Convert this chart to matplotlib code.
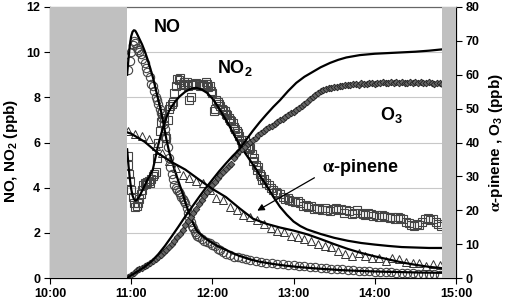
import matplotlib
matplotlib.use("Agg")
import matplotlib.pyplot as plt

plt.rcParams["font.family"] = ["Liberation Sans", "DejaVu Sans"]
plt.rcParams["font.weight"] = "bold"
plt.rcParams["mathtext.fontset"] = "stix"
plt.rcParams["mathtext.default"] = "regular"

# time axis in minutes after 10:00
TICK_MIN = [0, 60, 120, 180, 240, 300]
TICK_LABELS = ["10:00", "11:00", "12:00", "13:00", "14:00", "15:00"]
DARK_BANDS = [(0, 57), (290, 300)]

# NO measured (circles, left axis)
no_t = [58, 59, 60, 61, 62, 63, 64, 65, 66, 67, 68, 70, 71, 72, 74, 75, 76, 77, 78, 79,
        80, 81, 82, 83, 84, 85, 86, 87, 88, 89, 90, 91, 92, 93, 94, 95, 96, 97, 98, 99,
        100, 101, 102, 103, 104, 105, 106, 107, 108, 109, 110, 112, 114, 116, 118, 120,
        122, 124, 126, 128, 130, 133, 136, 139, 142, 145, 148, 152, 156, 160, 164, 168,
        172, 176, 180, 184, 188, 192, 196, 200, 204, 208, 212, 216, 220, 224, 228, 232,
        236, 240, 244, 248, 252, 256, 260, 264, 268, 272, 276, 280, 284, 288]
no_v = [9.2, 9.6, 10.0, 10.3, 10.5, 10.4, 10.2, 10.1, 10.0, 9.9, 9.7, 9.5, 9.3, 9.1, 8.9,
        8.6, 8.5, 8.3, 8.0, 7.9, 7.7, 7.5, 7.3, 7.1, 6.8, 6.6, 6.2, 5.8, 5.3, 4.9, 4.6, 4.4,
        4.1, 4.0, 3.9, 3.8, 3.7, 3.6, 3.5, 3.4, 3.3, 3.1, 2.9, 2.7, 2.5, 2.3, 2.2, 2.05,
        1.95, 1.85, 1.8, 1.72, 1.65, 1.6, 1.55, 1.48, 1.4, 1.3, 1.22, 1.15, 1.08, 1.0, 0.95,
        0.92, 0.88, 0.84, 0.8, 0.76, 0.72, 0.68, 0.66, 0.62, 0.6, 0.58, 0.56, 0.55, 0.52,
        0.5, 0.47, 0.45, 0.43, 0.42, 0.4, 0.38, 0.37, 0.35, 0.33, 0.32, 0.3, 0.28, 0.27,
        0.26, 0.25, 0.23, 0.22, 0.21, 0.2, 0.19, 0.18, 0.17, 0.16, 0.15]

# NO model
no_fit_t = [57, 58, 59, 60, 61, 62, 63, 64, 66, 68, 70, 72, 74, 76, 78, 80, 82, 84, 86, 88,
            90, 92, 94, 96, 98, 100, 102, 104, 106, 108, 110, 112, 115, 120, 125, 130, 135,
            140, 148, 155, 165, 175, 185, 195, 205, 215, 230, 245, 260, 275, 290]
no_fit_v = [9.0, 9.7, 10.3, 10.7, 10.9, 10.97, 10.95, 10.85, 10.6, 10.35, 10.05, 9.7, 9.3,
            8.9, 8.4, 7.9, 7.4, 6.8, 6.15, 5.6, 5.2, 4.8, 4.45, 4.1, 3.75, 3.35, 3.0, 2.7,
            2.4, 2.15, 2.0, 1.9, 1.75, 1.55, 1.38, 1.25, 1.1, 0.98, 0.82, 0.72, 0.62, 0.54,
            0.48, 0.43, 0.39, 0.35, 0.31, 0.28, 0.26, 0.24, 0.23]

# NO2 measured (squares, left axis)
no2_t = [57.5, 58, 58.5, 59, 60, 61, 62, 63, 64, 65, 66, 67, 68, 69, 70, 71, 72, 73, 74, 75,
         76, 77, 78, 79, 80, 81, 82, 83, 84, 85, 86, 87, 88, 89, 90, 91, 92, 93, 94, 95, 96,
         97, 98, 99, 100, 101, 102, 103, 104, 105, 106, 107, 108, 110, 111, 112, 113, 114,
         115, 116, 117, 118, 119, 120, 121, 122, 123, 124, 125, 126, 127, 128, 129, 130,
         131, 132, 133, 134, 135, 136, 137, 138, 139, 140, 141, 142, 143, 144, 145, 146,
         147, 148, 149, 150, 151, 152, 153, 154, 155, 156, 157, 158, 160, 162, 163, 165,
         167, 168, 170, 172, 174, 176, 177, 179, 181, 183, 185, 187, 189, 191, 193, 195,
         197, 199, 201, 203, 205, 207, 209, 211, 213, 215, 217, 219, 221, 223, 225, 227,
         229, 231, 233, 235, 237, 239, 241, 243, 245, 247, 249, 251, 253, 255, 257, 259,
         261, 263, 265, 267, 269, 271, 273, 275, 277, 279, 281, 283, 285, 287, 289]
no2_v = [5.4, 5.0, 4.6, 4.3, 3.9, 3.6, 3.3, 3.15, 3.2, 3.3, 3.5, 3.7, 3.9, 4.1, 4.2, 4.15,
         4.25, 4.3, 4.2, 4.4, 4.5, 4.6, 4.7, 5.3, 6.0, 6.5, 6.9, 7.3, 7.1, 6.3, 6.2, 7.0, 7.5,
         7.6, 7.7, 7.8, 8.2, 8.5, 8.8, 8.75, 8.85, 8.6, 8.55, 8.7, 8.6, 8.7, 8.5, 7.9, 8.0,
         8.6, 8.55, 8.6, 8.65, 8.6, 8.5, 8.55, 8.6, 8.5, 8.7, 8.6, 8.45, 8.5, 8.3, 8.2, 7.4,
         7.5, 7.9, 7.8, 7.7, 7.6, 7.5, 7.45, 7.4, 7.25, 7.2, 7.1, 7.0, 6.95, 6.85, 6.7, 6.6,
         6.5, 6.4, 6.3, 6.1, 6.0, 5.9, 6.1, 5.9, 5.8, 5.7, 5.75, 5.5, 5.2, 5.3, 5.0, 4.8, 4.9,
         4.6, 4.5, 4.35, 4.4, 4.2, 4.1, 4.0, 3.9, 3.8, 3.75, 3.7, 3.6, 3.5, 3.55, 3.45, 3.4,
         3.35, 3.4, 3.3, 3.2, 3.25, 3.15, 3.2, 3.05, 3.1, 3.05, 3.0, 3.1, 3.0, 2.95, 3.05,
         3.1, 3.0, 3.05, 2.9, 3.0, 2.95, 2.85, 2.9, 3.0, 2.9, 2.85, 2.8, 2.9, 2.85, 2.75, 2.8,
         2.7, 2.8, 2.75, 2.7, 2.65, 2.7, 2.6, 2.7, 2.65, 2.6, 2.5, 2.45, 2.35, 2.3, 2.4, 2.35,
         2.5, 2.6, 2.65, 2.55, 2.6, 2.5, 2.4, 2.3]

# NO2 model
no2_fit_t = [57, 58, 59, 60, 61, 62, 63, 64, 66, 68, 70, 72, 74, 76, 78, 80, 82, 84, 86, 88,
             90, 93, 96, 100, 104, 108, 112, 116, 120, 124, 128, 132, 136, 140, 144, 148,
             152, 156, 160, 165, 170, 175, 180, 185, 190, 200, 210, 220, 230, 240, 250, 260,
             270, 280, 290]
no2_fit_v = [5.7, 5.0, 4.4, 3.95, 3.65, 3.5, 3.43, 3.45, 3.6, 3.85, 4.1, 4.35, 4.55, 4.8,
             5.35, 5.9, 6.35, 6.75, 7.1, 7.4, 7.6, 7.85, 8.05, 8.25, 8.38, 8.42, 8.35, 8.2,
             7.95, 7.6, 7.2, 6.8, 6.35, 5.9, 5.55, 5.2, 4.85, 4.45, 4.1, 3.6, 3.15, 2.8, 2.5,
             2.3, 2.15, 1.95, 1.78, 1.65, 1.55, 1.48, 1.42, 1.37, 1.35, 1.33, 1.33]

# alpha-pinene measured (triangles, right axis)
ap_t = [58, 63, 68, 73, 78, 83, 88, 93, 98, 103, 108, 113, 118, 123, 128, 133, 138, 143,
        148, 153, 158, 163, 168, 173, 178, 183, 188, 193, 198, 203, 208, 213, 218, 223, 228,
        233, 238, 243, 248, 253, 258, 263, 268, 273, 278, 283, 288]
ap_v = [43.5, 42.5, 42, 41, 39, 37, 34.5, 32.5, 30.5, 29.5, 28.5, 28, 26, 23.5, 23, 21, 20,
        18.5, 18, 17, 16, 14.8, 14, 13.5, 12.5, 12, 11.5, 11, 10, 9.5, 9.2, 8, 7, 6.5, 7.5,
        6.5, 6, 5.8, 5, 6, 5.5, 4.8, 4.5, 4.5, 3.5, 4.0, 3.8]

# alpha-pinene model
ap_fit_t = [57, 60, 70, 80, 90, 100, 110, 120, 130, 140, 150, 160, 170, 180, 190, 200, 210,
            220, 230, 240, 250, 260, 270, 280, 290]
ap_fit_v = [43, 42.6, 40.2, 36.8, 34.2, 32.0, 29.1, 26.3, 23.9, 20.6, 17.5, 16.0, 14.9, 14.0,
            12.9, 11.5, 10.0, 8.6, 7.4, 6.4, 5.5, 4.6, 3.9, 3.3, 2.9]

# O3 measured (diamonds, right axis)
o3_t = [58, 60, 62, 64, 66, 68, 70, 72, 74, 76, 78, 80, 82, 84, 86, 88, 90, 92, 94, 96, 98,
        100, 102, 104, 106, 108, 110, 112, 114, 116, 118, 120, 122, 124, 126, 128, 130, 132,
        134, 136, 138, 140, 142, 144, 146, 148, 150, 152, 154, 156, 158, 160, 162, 164, 166,
        168, 170, 172, 174, 176, 178, 180, 182, 184, 186, 188, 190, 192, 194, 196, 198, 200,
        202, 204, 206, 208, 210, 212, 214, 216, 218, 220, 222, 224, 226, 228, 230, 232, 234,
        236, 238, 240, 242, 244, 246, 248, 250, 252, 254, 256, 258, 260, 262, 264, 266, 268,
        270, 272, 274, 276, 278, 280, 282, 284, 286, 288, 290]
o3_v = [0.2, 0.8, 1.6, 2.3, 2.8, 3.1, 3.4, 3.8, 4.3, 4.9, 5.5, 6.2, 6.9, 7.6, 8.3, 9.1, 10.0,
        11.0, 12.0, 13.1, 14.3, 15.5, 16.8, 18.0, 19.3, 20.5, 21.7, 22.9, 24.1, 25.3, 26.4,
        27.4, 28.4, 29.4, 30.3, 31.2, 32.1, 33.0, 33.8, 35.5, 36.6, 37.5, 38.0, 38.8, 39.5,
        40.2, 40.8, 41.4, 42.1, 42.8, 43.5, 44.0, 44.5, 45.0, 45.5, 46.0, 46.6, 47.0, 47.4,
        48.0, 48.6, 49.1, 49.6, 50.2, 50.9, 51.5, 52.1, 52.8, 53.4, 54.0, 54.6, 55.1, 55.5,
        55.8, 56.0, 56.2, 56.3, 56.5, 56.6, 56.8, 56.9, 57.0, 56.9, 57.2, 57.3, 57.1, 57.5,
        57.4, 57.3, 57.6, 57.5, 57.4, 57.7, 57.5, 57.8, 57.6, 57.7, 57.9, 57.6, 57.8, 57.5,
        57.9, 57.7, 57.6, 58.0, 57.7, 57.8, 57.6, 57.9, 57.7, 57.5, 57.8, 57.6, 57.4, 57.7,
        57.5, 57.4]

# O3 model
o3_fit_t = [57, 60, 65, 70, 75, 80, 85, 90, 95, 100, 105, 110, 115, 120, 125, 130, 135, 140,
            145, 150, 155, 160, 165, 170, 176, 182, 188, 194, 200, 207, 213, 219, 229, 240,
            250, 260, 270, 280, 290]
o3_fit_v = [0.0, 0.8, 2.0, 3.3, 4.9, 7.0, 9.5, 12.3, 15.2, 18.2, 21.0, 23.8, 26.5, 29.0,
            31.5, 33.8, 36.0, 38.0, 40.8, 43.5, 46.0, 48.3, 50.5, 52.5, 55.2, 57.6, 59.4,
            60.8, 62.2, 63.5, 64.4, 65.1, 65.8, 66.2, 66.4, 66.6, 66.8, 67.1, 67.5]


fig = plt.figure(figsize=(5.1, 3.04), dpi=100)
ax = fig.add_axes([0.098, 0.0855, 0.796, 0.8915])
ax2 = ax.twinx()

# left axis: NO, NO2
ax.plot(no2_t, no2_v, ls="none", marker="s", ms=5.5, mfc="none", mec="#444", mew=0.8)
ax.plot(no_t, no_v, ls="none", marker="o", ms=6, mfc="none", mec="#444", mew=0.8)
ax.plot(no_fit_t, no_fit_v, color="k", lw=1.6)
ax.plot(no2_fit_t, no2_fit_v, color="k", lw=1.6)

# right axis: alpha-pinene, O3
ax2.plot(ap_t, ap_v, ls="none", marker="^", ms=6, mfc="none", mec="#333", mew=0.7)
ax2.plot(o3_t, o3_v, ls="none", marker="D", ms=3.4, mfc="#666", mec="#222", mew=0.6)
ax2.plot(ap_fit_t, ap_fit_v, color="k", lw=1.6)
ax2.plot(o3_fit_t, o3_fit_v, color="k", lw=1.6)

for x0, x1 in DARK_BANDS:
    ax2.axvspan(x0, x1, color="#c0c0c0", lw=0, zorder=10)

ax.set_xlim(0, 300)
ax.set_ylim(0, 12)
ax2.set_ylim(0, 80)
ax.set_xticks(TICK_MIN)
ax.set_xticklabels(TICK_LABELS)
ax.set_yticks(range(0, 13, 2))
ax2.set_yticks(range(0, 81, 10))
ax.yaxis.grid(True, color="#c8c8c8", lw=0.8)
ax.set_axisbelow(True)

for a in (ax, ax2):
    a.tick_params(direction="out", length=4, width=0.8, labelsize=9, pad=3)
    for s in a.spines.values():
        s.set_linewidth(0.8)
    a.spines["top"].set_color("#666")

ax.set_ylabel("NO, NO$_2$ (ppb)", fontsize=11, fontweight="bold")
ax2.set_ylabel(r"$\mathrm{\alpha}$-pinene , O$_3$ (ppb)", fontsize=11, fontweight="bold")
ax.yaxis.set_label_coords(-0.073, 0.47)
ax2.yaxis.set_label_coords(1.077, 0.5)

ax.text(86.4, 11.1, "NO", fontsize=13, fontweight="bold", ha="center", va="center")
ax.text(136.6, 9.3, "NO$_2$", fontsize=13, fontweight="bold", ha="center", va="center")
ax.text(252.6, 7.2, "O$_3$", fontsize=13, fontweight="bold", ha="center", va="center")
ax.text(200.9, 4.9, r"$\mathrm{\alpha}$-pinene", fontsize=13, fontweight="bold",
        ha="left", va="center")
ax.annotate("", xy=(151.4, 2.92), xytext=(197.2, 4.5),
            arrowprops=dict(arrowstyle="-|>", color="k", lw=0.9, mutation_scale=10))

fig.savefig("out.png", dpi=100)
